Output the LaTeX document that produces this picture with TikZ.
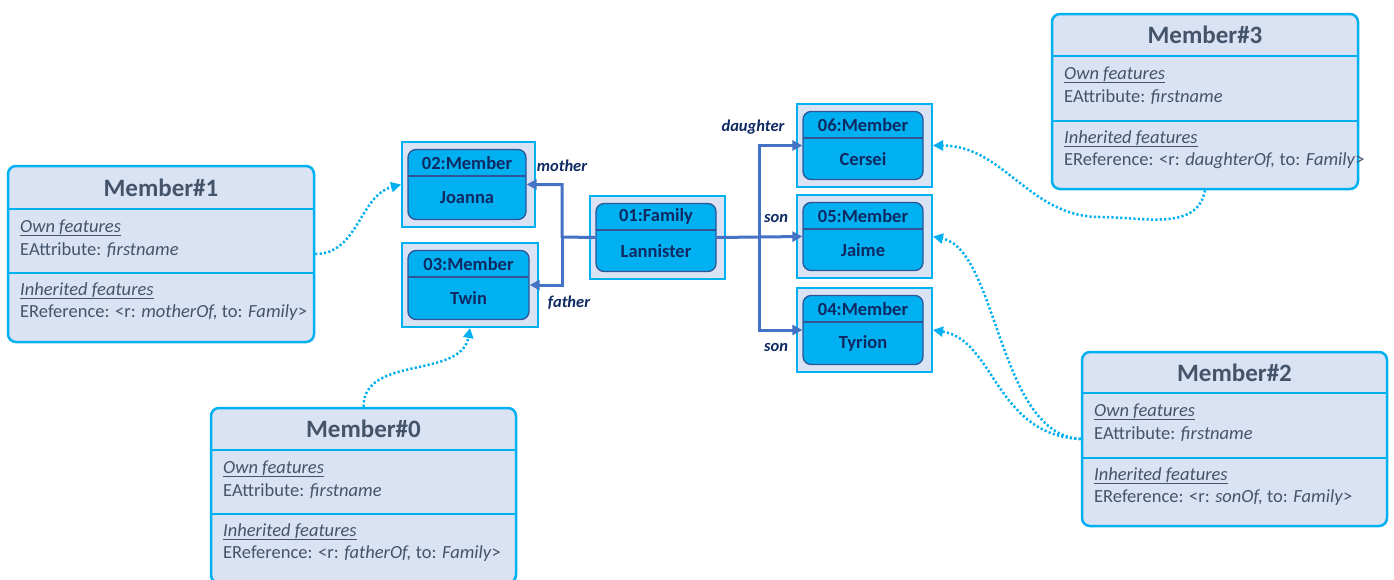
\documentclass[tikz,border=0pt]{standalone}
\usepackage{fontspec}
\setmainfont{Carlito}
\usetikzlibrary{arrows.meta}
\definecolor{skyb}{HTML}{00B0F0}
\definecolor{pale}{HTML}{DAE3F3}
\definecolor{slate}{HTML}{44546A}
\definecolor{navy}{HTML}{0F2A63}
\definecolor{rim}{HTML}{2F5597}
\definecolor{relc}{HTML}{4472C4}
\tikzset{
 bigbox/.style={draw=skyb, fill=pale, line width=2.5pt, rounded corners=8pt, inner sep=0},
 bigsep/.style={draw=skyb, line width=2.5pt},
 titletxt/.style={text=slate, font=\fontsize{25}{30}\selectfont\bfseries, inner sep=0},
 bodytxt/.style={text=slate, font=\fontsize{18.5}{22}\selectfont, inner sep=0, anchor=base west},
 objouter/.style={draw=skyb, fill=pale, line width=2pt, inner sep=0},
 objinner/.style={draw=rim, fill=skyb, line width=1.3pt, rounded corners=8pt, inner sep=0},
 objsep/.style={draw=rim, line width=1.3pt},
 objtxt/.style={text=navy, font=\fontsize{18.5}{22}\selectfont\bfseries, inner sep=0},
 reltxt/.style={text=navy, font=\fontsize{16.5}{20}\selectfont\bfseries\itshape, inner sep=0},
 rel/.style={draw=relc, line width=3pt, line join=miter, -{Triangle[length=10pt,width=10pt]}},
 inst/.style={draw=skyb, line width=2.5pt, dash pattern=on 2.2pt off 2.2pt, -{Triangle[length=10pt,width=10pt]}},
}
\newcommand\objbox[7]{%
 \node[objouter, minimum width={#4-#2}, minimum height={#5-#3}] (#1) at ({(#2+#4)/2},{(#3+#5)/2}) {};
 \node[objinner, minimum width={#4-#2-15}, minimum height={#5-#3-15}] (#1-in) at ({(#2+#4)/2-1.5},{(#3+#5)/2}) {};
 \draw[objsep] ({#2+6},{#3+34}) -- ({#4-9},{#3+34});
 \node[objtxt] (#1-t) at ({(#2+#4)/2-1.5},{(#3+7.5+#3+34)/2}) {#6};
 \node[objtxt] (#1-v) at ({(#2+#4)/2-1.5},{(#3+34+#5-7.5)/2}) {#7};
}
\newcommand\umlbox[9]{%
 \node[bigbox, minimum width={#4-#2}, minimum height={#5-#3}] (#1) at ({(#2+#4)/2},{(#3+#5)/2}) {};
 \draw[bigsep] ({#2},{#6}) -- ({#4},{#6});
 \draw[bigsep] ({#2},{#7}) -- ({#4},{#7});
 \node[titletxt] (#1-t) at ({(#2+#4)/2},{(#3+#6)/2}) {#8};
 \node[bodytxt] (#1-a) at ({#2+12},{#6+23}) {\underline{\textit{Own features}}};
 \node[bodytxt] (#1-b) at ({#2+12},{#6+46}) {EAttribute: \textit{firstname}};
 \node[bodytxt] (#1-c) at ({#2+12},{#7+22}) {\underline{\textit{Inherited features}}};
 \node[bodytxt] (#1-d) at ({#2+12},{#7+44}) {EReference: <r: \textit{#9,} to: \textit{Family}>};
}
\begin{document}
\begin{tikzpicture}[x=1pt,y=-1pt]
\useasboundingbox (0,0) rectangle (1394,579);
\fill[white] (0,0) rectangle (1394,579);
% UML boxes
\umlbox{m1}{8}{166}{314}{342}{209}{273}{Member\#1}{motherOf}
\umlbox{m3}{1052}{14}{1358}{189}{56}{121}{Member\#3}{daughterOf}
\umlbox{m2}{1082}{352}{1387}{526}{393}{458}{Member\#2}{sonOf}
\umlbox{m0}{211}{408}{516}{583}{450}{514}{Member\#0}{fatherOf}
% object boxes
\objbox{o02}{402}{142}{535}{227}{02:Member}{Joanna}
\objbox{o03}{402}{243}{538}{327}{03:Member}{Twin}
\objbox{o01}{590}{196}{725}{279}{01:Family}{Lannister}
\objbox{o06}{797}{104}{932}{187}{06:Member}{Cersei}
\objbox{o05}{797}{195}{932}{278}{05:Member}{Jaime}
\objbox{o04}{797}{288}{932}{372}{04:Member}{Tyrion}
% relations
\coordinate (jl) at (562,237);
\coordinate (jr) at (759,237);
\draw[rel] (o01-in.west) -- (jl) |- (o02-in.east);
\draw[rel] (jl) |- (o03-in.east);
\draw[rel] (o01-in.east) -- (o05-in.west);
\draw[rel] (jr) |- (o06-in.west);
\draw[rel] (jr) |- (o04-in.west);
\node[reltxt] (lmother) at (562,166) {mother};
\node[reltxt] (lfather) at (569,303) {father};
\node[reltxt] (ldaughter) at (753,127) {daughter};
\node[reltxt] (lson1) at (776,218) {son};
\node[reltxt] (lson2) at (776,347) {son};
% instance-of links
\draw[inst] (m1.east) to[out=0,in=195] (o02.west);
\draw[inst] (m0.north) to[out=90,in=-100] (o03.south);
\coordinate (c3) at (1100,217);
\draw[inst] (m3.south) to[out=-100,in=0] (c3) to[out=180,in=0] (o06.east);
\draw[inst] (m2.west) .. controls (998,435) and (998,250) .. (o05.east);
\draw[inst] (m2.west) .. controls (995,435) and (995,340) .. (o04.east);
\end{tikzpicture}
\end{document}
